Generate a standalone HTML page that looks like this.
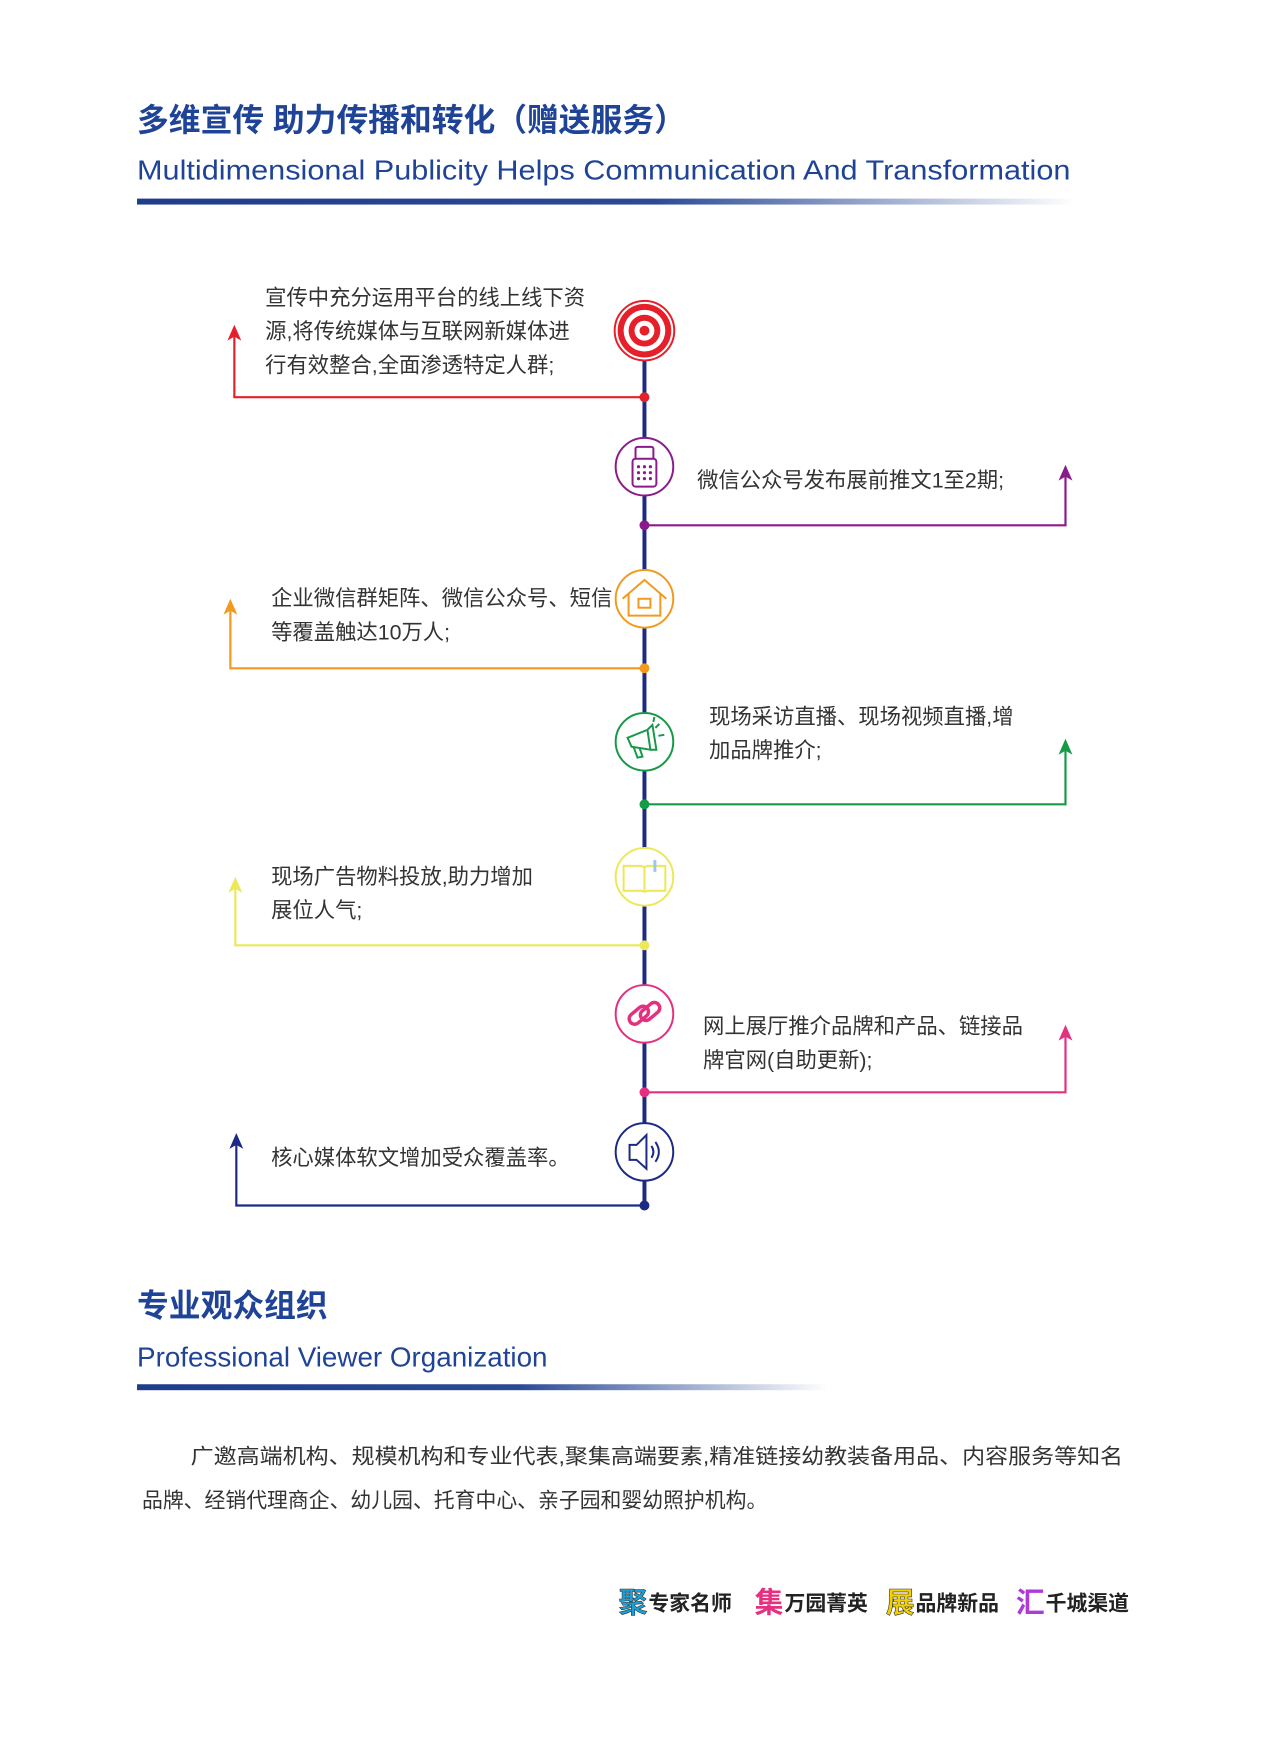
<!DOCTYPE html>
<html><head><meta charset="utf-8"><style>
html,body{margin:0;padding:0;background:#fff;}
svg{display:block;}
text{font-family:"Liberation Sans","Noto Sans CJK SC",sans-serif;}
.t{font-size:21.5px;fill:#333;}
</style></head><body>
<svg width="1275" height="1757" viewBox="0 0 1275 1757" xmlns="http://www.w3.org/2000/svg">
<defs>
<linearGradient id="g1" x1="0" x2="1" y1="0" y2="0">
<stop offset="0" stop-color="#1e3e8c"/><stop offset="0.55" stop-color="#2a4a96"/><stop offset="1" stop-color="#2a4a96" stop-opacity="0"/>
</linearGradient>
</defs>
<g transform="scale(0.993)">
<text x="138" y="132" font-size="32" font-weight="bold" fill="#1f4396">多维宣传 助力传播和转化（赠送服务）</text>
<text x="138" y="181" font-size="28" fill="#1f4396" textLength="940" lengthAdjust="spacingAndGlyphs">Multidimensional Publicity Helps Communication And Transformation</text>
<rect x="138" y="200" width="945" height="6" fill="url(#g1)"/>

<line x1="649" y1="360" x2="649" y2="1214" stroke="#1d2a84" stroke-width="4"/>

<g fill="none" stroke-width="2.2">
<polyline points="649,400 236,400 236,330" stroke="#e5202a"/>
<path d="M229,343 L236,327 L243,343 L236,339Z" fill="#e5202a" stroke="none"/>
<polyline points="649,529 1073,529 1073,472" stroke="#8b1a8b"/>
<path d="M1066,484 L1073,468 L1080,484 L1073,480Z" fill="#8b1a8b" stroke="none"/>
<polyline points="649,673 232,673 232,606" stroke="#f29a1f"/>
<path d="M225,619 L232,603 L239,619 L232,615Z" fill="#f29a1f" stroke="none"/>
<polyline points="649,810 1073,810 1073,748" stroke="#169a48"/>
<path d="M1066,760 L1073,744 L1080,760 L1073,756Z" fill="#169a48" stroke="none"/>
<polyline points="649,952 237,952 237,886" stroke="#ece85a"/>
<path d="M230,899 L237,883 L244,899 L237,895Z" fill="#ece85a" stroke="none"/>
<polyline points="649,1100 1073,1100 1073,1036" stroke="#e4307f"/>
<path d="M1066,1048 L1073,1032 L1080,1048 L1073,1044Z" fill="#e4307f" stroke="none"/>
<polyline points="649,1214 238,1214 238,1144" stroke="#1d2a84"/>
<path d="M231,1157 L238,1141 L245,1157 L238,1153Z" fill="#1d2a84" stroke="none"/>
</g>
<circle cx="649" cy="400" r="5" fill="#e5202a"/>
<circle cx="649" cy="529" r="5" fill="#8b1a8b"/>
<circle cx="649" cy="673" r="5" fill="#f29a1f"/>
<circle cx="649" cy="810" r="5" fill="#169a48"/>
<circle cx="649" cy="952" r="5" fill="#ece85a"/>
<circle cx="649" cy="1100" r="5" fill="#e4307f"/>
<circle cx="649" cy="1214" r="5" fill="#1d2a84"/>

<g>
<circle cx="649" cy="333" r="30" fill="#fff" stroke="#e5202a" stroke-width="2"/>
<circle cx="649" cy="333" r="27" fill="#e5202a"/>
<circle cx="649" cy="333" r="21" fill="#fff"/>
<circle cx="649" cy="333" r="16" fill="#e5202a"/>
<circle cx="649" cy="333" r="10" fill="#fff"/>
<circle cx="649" cy="333" r="5" fill="#e5202a"/>
</g>
<g fill="#fff" stroke="#8b1a8b" stroke-width="2">
<circle cx="649" cy="470" r="29"/>
<rect x="640" y="450" width="18" height="14" rx="2"/>
<rect x="637" y="462" width="24" height="28" rx="3"/>
<g fill="#8b1a8b" stroke="none"><circle cx="643" cy="470" r="1.6"/><circle cx="649" cy="470" r="1.6"/><circle cx="655" cy="470" r="1.6"/><circle cx="643" cy="476" r="1.6"/><circle cx="649" cy="476" r="1.6"/><circle cx="655" cy="476" r="1.6"/><circle cx="643" cy="482" r="1.6"/><circle cx="649" cy="482" r="1.6"/><circle cx="655" cy="482" r="1.6"/></g>
</g>
<g fill="#fff" stroke="#f29a1f" stroke-width="2">
<circle cx="649" cy="603" r="29"/>
<path d="M627,603 L649,584 L671,603 M633,598 V620 H665 V598" fill="none"/>
<rect x="643" y="603" width="12" height="9"/>
</g>
<g fill="#fff" stroke="#169a48" stroke-width="2">
<circle cx="649" cy="747" r="29"/>
<path d="M632,743 L652,735 L655,755 L636,752 Z M638,752 L642,763 L647,762 L644,753" fill="none"/>
<path d="M652,735 L657,730 L661,755 L655,755" fill="none"/>
<path d="M660,733 L664,729 M663,741 L669,740 M658,727 L659,722" fill="none"/>
</g>
<g fill="#fff" stroke="#ece85a" stroke-width="2">
<circle cx="649" cy="883" r="29"/>
<path d="M628,872 H646 Q649,874 652,872 H670 V897 H652 Q649,899 646,897 H628 Z M649,874 V897" fill="none"/>
<rect x="658" y="866" width="3" height="12" fill="#9cc8e8" stroke="none"/>
</g>
<g fill="#fff" stroke="#e4307f" stroke-width="2">
<circle cx="649" cy="1021" r="29"/>
<g fill="none" stroke-width="3.5"><rect x="632" y="1017" width="22" height="11" rx="5.5" transform="rotate(-40 643 1022)"/><rect x="644" y="1013" width="22" height="11" rx="5.5" transform="rotate(-40 655 1019)"/></g>
</g>
<g fill="#fff" stroke="#1d2a84" stroke-width="2">
<circle cx="649" cy="1160" r="29"/>
<path d="M634,1153 H641 L651,1143 V1177 L641,1168 H634 Z" fill="none"/>
<path d="M656,1154 Q660,1160 656,1166 M660,1150 Q667,1160 660,1170" fill="none"/>
</g>

<text class="t" x="267" y="307">宣传中充分运用平台的线上线下资</text>
<text class="t" x="267" y="341">源,将传统媒体与互联网新媒体进</text>
<text class="t" x="267" y="375">行有效整合,全面渗透特定人群;</text>
<text class="t" x="702" y="491">微信公众号发布展前推文1至2期;</text>
<text class="t" x="273" y="610">企业微信群矩阵、微信公众号、短信</text>
<text class="t" x="273" y="644">等覆盖触达10万人;</text>
<text class="t" x="714" y="729">现场采访直播、现场视频直播,增</text>
<text class="t" x="714" y="763">加品牌推介;</text>
<text class="t" x="273" y="890">现场广告物料投放,助力增加</text>
<text class="t" x="273" y="924">展位人气;</text>
<text class="t" x="708" y="1041">网上展厅推介品牌和产品、链接品</text>
<text class="t" x="708" y="1075">牌官网(自助更新);</text>
<text class="t" x="273" y="1173">核心媒体软文增加受众覆盖率。</text>

<text x="138" y="1326" font-size="32" font-weight="bold" fill="#1f4396">专业观众组织</text>
<text x="138" y="1376" font-size="28" fill="#1f4396">Professional Viewer Organization</text>
<rect x="138" y="1394" width="697" height="6" fill="url(#g1)"/>

<text x="192" y="1474" font-size="21" fill="#333" textLength="939" lengthAdjust="spacingAndGlyphs">广邀高端机构、规模机构和专业代表,聚集高端要素,精准链接幼教装备用品、内容服务等知名</text>
<text x="143" y="1518" font-size="21" fill="#333">品牌、经销代理商企、幼儿园、托育中心、亲子园和婴幼照护机构。</text>

<g font-weight="bold">
<text x="623" y="1624" font-size="29" fill="#1aa0d8" stroke="#333" stroke-width="0.6">聚</text>
<text x="653" y="1622" font-size="21" fill="#222">专家名师</text>
<text x="760" y="1624" font-size="29" fill="#e4307f">集</text>
<text x="790" y="1622" font-size="21" fill="#222">万园菁英</text>
<text x="892" y="1624" font-size="29" fill="#f5d000" stroke="#333" stroke-width="0.6">展</text>
<text x="922" y="1622" font-size="21" fill="#222">品牌新品</text>
<text x="1023" y="1624" font-size="29" fill="#b03ad8">汇</text>
<text x="1053" y="1622" font-size="21" fill="#222">千城渠道</text>
</g>
</g>
</svg>
</body></html>
